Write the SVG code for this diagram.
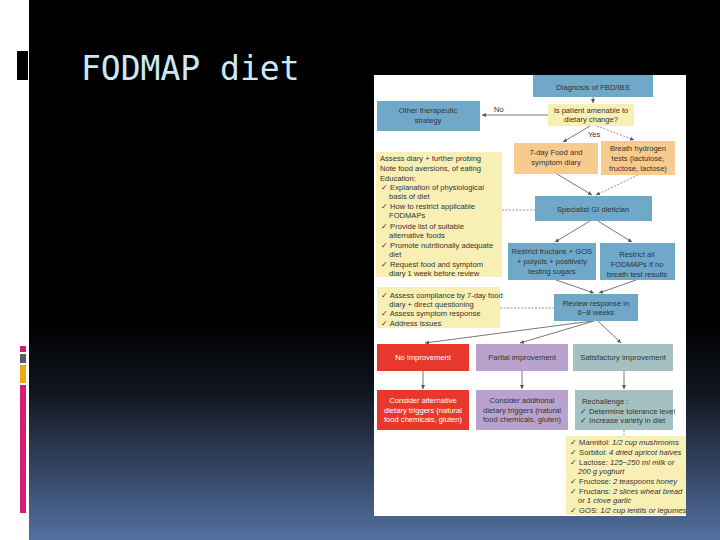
<svg xmlns="http://www.w3.org/2000/svg" width="720" height="540" viewBox="0 0 720 540">
<defs>
<linearGradient id="bg" x1="0" y1="0" x2="0" y2="1">
<stop offset="0" stop-color="#000"/><stop offset="0.6" stop-color="#000"/><stop offset="0.72" stop-color="#10141c"/><stop offset="1" stop-color="#5470a0"/>
</linearGradient>
<marker id="a" markerWidth="6" markerHeight="6" refX="5" refY="3" orient="auto"><path d="M0,0.5 L5,3 L0,5.5 z" fill="#555"/></marker>
</defs>
<style>
text{font-family:"Liberation Sans",Arial,sans-serif;font-size:7.6px;fill:#333}
.c{text-anchor:middle}
.b{fill:#6fa8c8}.y{fill:#f8efb4}.o{fill:#f7cb90}.r{fill:#e8382e}.p{fill:#b9a2cd}.t{fill:#a4c0c0}
.l{stroke:#555;stroke-width:0.8;fill:none}
.d{stroke:#777;stroke-width:0.8;fill:none;stroke-dasharray:2,1.5}
.w{fill:#fff}
i{}
</style>
<rect x="0" y="0" width="720" height="540" fill="#fff"/>
<rect x="29" y="0" width="691" height="540" fill="url(#bg)"/>
<rect x="17" y="51" width="11" height="29" fill="#000"/>
<rect x="20" y="346" width="6" height="6" fill="#d81b74"/>
<rect x="20" y="354" width="6" height="9" fill="#555c66"/>
<rect x="20" y="365" width="6" height="18" fill="#f0a818"/>
<rect x="20" y="385" width="6" height="128" fill="#d81b74"/>
<text x="81" y="80" style="font-family:'DejaVu Sans Mono',monospace;font-size:33px;fill:#cde8f5">FODMAP diet</text>
<rect x="374" y="75" width="312" height="441" fill="#fff"/>
<g id="connectors">
<path class="l" d="M593,97 V103" marker-end="url(#a)"/>
<path class="l" d="M548,115 H482" marker-end="url(#a)"/>
<path class="l" d="M590,126 L563,142" marker-end="url(#a)"/>
<path class="d" d="M597,126 L634,140" marker-end="url(#a)"/>
<path class="l" d="M557,174 L592,195" marker-end="url(#a)"/>
<path class="d" d="M638,175 L596,195" marker-end="url(#a)"/>
<path class="d" d="M502,210 H535"/>
<path class="l" d="M590,221 L555,242" marker-end="url(#a)"/>
<path class="l" d="M598,221 L632,242" marker-end="url(#a)"/>
<path class="l" d="M556,280 L594,293" marker-end="url(#a)"/>
<path class="l" d="M636,280 L599,293" marker-end="url(#a)"/>
<path class="d" d="M500,308 H554"/>
<path class="l" d="M592,321 L425,343" marker-end="url(#a)"/>
<path class="l" d="M594,321 L520,343" marker-end="url(#a)"/>
<path class="l" d="M598,321 L621,343" marker-end="url(#a)"/>
<path class="l" d="M423,371 V389" marker-end="url(#a)"/>
<path class="l" d="M522,371 V389" marker-end="url(#a)"/>
<path class="l" d="M624,371 V389" marker-end="url(#a)"/>
<path class="d" d="M624,430 V436"/>
</g>
<g id="diag"><rect class="b" x="533" y="75" width="120" height="22"/><text class="c" x="593" y="90">Diagnosis of FBD/IBS</text></g>
<g id="amen"><rect class="y" x="548" y="104" width="86" height="22"/><text class="c" x="591" y="113">Is patient amenable to</text><text class="c" x="591" y="122">dietary change?</text></g>
<g id="other"><rect class="b" x="377" y="101" width="103" height="30"/><text class="c" x="428" y="113">Other therapeutic</text><text class="c" x="428" y="123">strategy</text></g>
<text x="494" y="112">No</text>
<text x="588" y="137">Yes</text>
<g id="food"><rect class="o" x="514" y="143" width="84" height="31"/><text class="c" x="556" y="155">7-day Food and</text><text class="c" x="556" y="165">symptom diary</text></g>
<g id="breath"><rect class="o" x="601" y="141" width="74" height="34"/><text class="c" x="638" y="151">Breath hydrogen</text><text class="c" x="638" y="161">tests (lactulose,</text><text class="c" x="638" y="171">fructose, lactose)</text></g>
<g id="edu"><rect class="y" x="376" y="152" width="126" height="125"/>
<text x="380" y="161">Assess diary + further probing</text>
<text x="380" y="171">Note food aversions, of eating</text>
<text x="380" y="181">Education:</text>
<text x="381" y="190">✓ Explanation of physiological</text>
<text x="389" y="199">basis of diet</text>
<text x="381" y="209">✓ How to restrict applicable</text>
<text x="389" y="218">FODMAPs</text>
<text x="381" y="229">✓ Provide list of suitable</text>
<text x="389" y="238">alternative foods</text>
<text x="381" y="248">✓ Promote nutritionally adequate</text>
<text x="389" y="257">diet</text>
<text x="381" y="267">✓ Request food and symptom</text>
<text x="389" y="276">diary 1 week before review</text></g>
<g id="spec"><rect class="b" x="535" y="196" width="117" height="25"/><text class="c" x="593" y="212">Specialist GI dietician</text></g>
<g id="rf"><rect class="b" x="508" y="243" width="88" height="37"/><text class="c" x="552" y="254">Restrict fructans + GOS</text><text class="c" x="552" y="264">+ polyols + positively</text><text class="c" x="552" y="274">testing sugars</text></g>
<g id="ra"><rect class="b" x="600" y="243" width="75" height="37"/><text class="c" x="637" y="257">Restrict all</text><text class="c" x="637" y="267">FODMAPs if no</text><text class="c" x="637" y="277">breath test results</text></g>
<g id="assess"><rect class="y" x="377" y="287" width="123" height="41"/>
<text x="381" y="298">✓ Assess compliance by 7-day food</text>
<text x="389" y="307">diary + direct questioning</text>
<text x="381" y="316">✓ Assess symptom response</text>
<text x="381" y="326">✓ Address issues</text></g>
<g id="review"><rect class="b" x="554" y="294" width="84" height="27"/><text class="c" x="596" y="306">Review response in</text><text class="c" x="596" y="315">6−8 weeks</text></g>
<g id="noimp"><rect class="r" x="377" y="344" width="92" height="27"/><text class="c" x="423" y="360" style="fill:#fff">No improvement</text></g>
<g id="part"><rect class="p" x="476" y="344" width="92" height="27"/><text class="c" x="522" y="360">Partial improvement</text></g>
<g id="sat"><rect class="t" x="573" y="344" width="100" height="27"/><text class="c" x="623" y="360">Satisfactory improvement</text></g>
<g id="calt"><rect class="r" x="377" y="390" width="92" height="40"/><text class="c" x="423" y="403" style="fill:#fff">Consider alternative</text><text class="c" x="423" y="413" style="fill:#fff">dietary triggers (natural</text><text class="c" x="423" y="422" style="fill:#fff">food chemicals, gluten)</text></g>
<g id="cadd"><rect class="p" x="476" y="390" width="92" height="40"/><text class="c" x="522" y="403">Consider additional</text><text class="c" x="522" y="413">dietary triggers (natural</text><text class="c" x="522" y="422">food chemicals, gluten)</text></g>
<g id="rech"><rect class="t" x="575" y="390" width="98" height="40"/><text x="582" y="404">Rechallenge :</text><text x="580" y="414">✓ Determine tolerance level</text><text x="580" y="423">✓ Increase variety in diet</text></g>
<g id="foods"><rect class="y" x="566" y="436" width="120" height="79"/>
<text x="570" y="445">✓ Mannitol: <tspan font-style="italic">1/2 cup mushrooms</tspan></text>
<text x="570" y="455">✓ Sorbitol: <tspan font-style="italic">4 dried apricot halves</tspan></text>
<text x="570" y="465">✓ Lactose: <tspan font-style="italic">125−250 ml milk or</tspan></text>
<text x="578" y="474" font-style="italic">200 g yoghurt</text>
<text x="570" y="484">✓ Fructose: <tspan font-style="italic">2 teaspoons honey</tspan></text>
<text x="570" y="494">✓ Fructans: <tspan font-style="italic">2 slices wheat bread</tspan></text>
<text x="578" y="503" font-style="italic">or 1 clove garlic</text>
<text x="570" y="513">✓ GOS: <tspan font-style="italic">1/2 cup lentils or legumes</tspan></text></g>
</svg>
